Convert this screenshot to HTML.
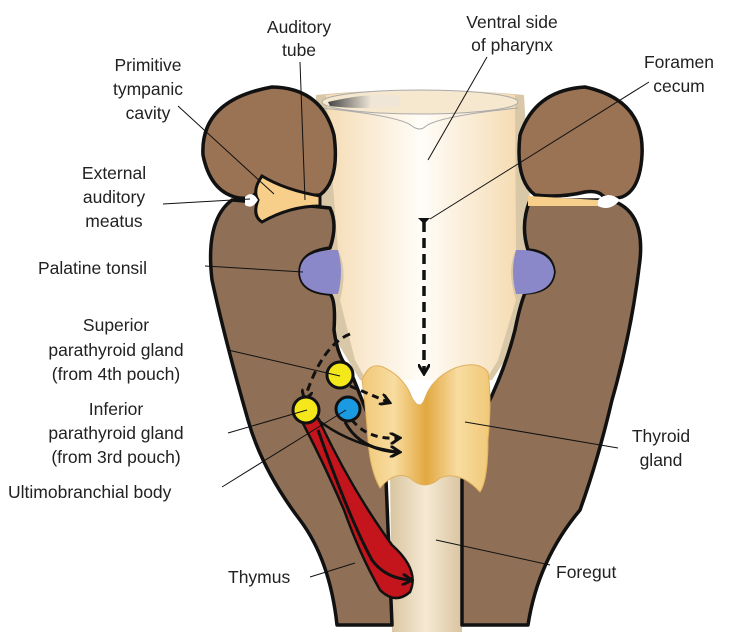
<!DOCTYPE html>
<html><head><meta charset="utf-8"><style>
html,body{margin:0;padding:0;background:#fff;}
svg{display:block;}
text{font-family:"Liberation Sans",sans-serif;font-size:17.5px;fill:#222;}
</style></head><body>
<svg width="738" height="638" viewBox="0 0 738 638" xmlns="http://www.w3.org/2000/svg">
<defs>
<linearGradient id="ph" x1="0" x2="1" y1="0" y2="0">
<stop offset="0" stop-color="#f5dcb4"/><stop offset="0.5" stop-color="#fffdf8"/><stop offset="1" stop-color="#f5dcb4"/>
</linearGradient>
<linearGradient id="gut" x1="0" x2="1">
<stop offset="0" stop-color="#d8c4a0"/><stop offset="0.5" stop-color="#f6ead4"/><stop offset="1" stop-color="#d8c4a0"/>
</linearGradient>
<linearGradient id="thy" x1="0" x2="1">
<stop offset="0" stop-color="#f0c878"/><stop offset="0.25" stop-color="#f8dca0"/><stop offset="0.5" stop-color="#e2a840"/><stop offset="0.75" stop-color="#f8dca0"/><stop offset="1" stop-color="#f0c878"/>
</linearGradient>
<linearGradient id="hole" x1="0" x2="1">
<stop offset="0" stop-color="#444"/><stop offset="0.6" stop-color="#f0e6d8"/>
</linearGradient>
<marker id="ahb" markerWidth="12" markerHeight="12" refX="8" refY="6" orient="auto" markerUnits="userSpaceOnUse">
<path d="M0,0 L10,6 L0,12" fill="none" stroke="#111" stroke-width="3"/>
</marker>
</defs>

<path d="M390,470 L392,632 L462,632 L462,470 Z" fill="url(#gut)"/>
<path d="M316,95 Q420,85 524,95 L530,200 L530,300 L520,340 L505,360 L492,380 L360,380 L348,360 L330,330 L312,300 L312,200 Z" fill="#d9c8a8"/>
<path d="M326,95 Q420,85 515,95 L516,250 Q506,270 516,300 L498,360 L486,380 L366,380 L355,360 L340,300 Q348,270 338,250 Z" fill="url(#ph)"/>
<ellipse cx="420" cy="102" rx="98" ry="12" fill="#f6e7cf" stroke="#aaa" stroke-width="1"/>
<path d="M328,102 Q370,92 400,96 L400,106 Q360,110 330,106 Z" fill="url(#hole)"/>
<path d="M322,108 Q400,116 412,126 Q420,132 426,126 Q440,116 518,108" fill="none" stroke="#aaa" stroke-width="1"/>

<path d="M232,200 L300,205 L330,208 Q338,225 330,248 Q300,252 300,272 Q300,292 330,294 Q336,300 334,330 Q338,360 350,370 Q362,400 378,440 Q386,465 386,480 L392,625 L337,625 Q330,560 300,520 Q262,470 248,420 Q225,340 212,280 Q205,220 232,200 Z" fill="#8f7056" stroke="#111" stroke-width="3.5" stroke-linejoin="round"/>
<path d="M530,200 L610,200 Q645,210 640,260 Q632,330 612,400 Q598,460 580,510 Q538,560 528,625 L462,625 L462,480 Q470,440 485,410 Q505,370 515,330 Q520,305 525,293 Q552,292 554,272 Q552,252 528,250 Q520,225 530,200 Z" fill="#8f7056" stroke="#111" stroke-width="3.5" stroke-linejoin="round"/>
<path d="M331,250 Q300,252 300,272 Q300,292 331,294 L338,294 Q344,272 338,250 Z" fill="#8a88c8"/>
<path d="M524,250 Q552,252 554,272 Q552,292 524,294 L516,294 Q510,272 516,250 Z" fill="#8a88c8"/>
<path d="M272,87 Q322,88 334,135 Q340,180 320,195 Q300,197 270,192 Q258,190 253,196 Q245,200 235,197 Q210,190 203,155 Q200,100 272,87 Z" fill="#9a7254" stroke="#111" stroke-width="3.5" stroke-linejoin="round"/>
<path d="M262,176 Q285,190 320,196 L320,206 Q290,206 262,222 Q252,216 258,200 Q252,190 262,176 Z" fill="#f7cf8a" stroke="#111" stroke-width="3"/>
<path d="M245,197 Q252,190 258,200 Q252,210 245,205 Z" fill="#fff"/>
<path d="M585,87 Q535,90 520,135 Q515,180 535,195 Q560,198 585,192 Q598,190 603,196 Q612,200 622,197 Q640,190 642,155 Q645,100 585,87 Z" fill="#9a7254" stroke="#111" stroke-width="3.5" stroke-linejoin="round"/>
<path d="M528,196 L598,200 Q600,208 598,206 L528,206 Z" fill="#f7cf8a"/>
<path d="M598,200 Q608,190 620,200 Q610,212 598,206 Z" fill="#fff"/>

<path d="M362,380 Q370,360 385,368 Q405,378 412,398 Q420,412 425,398 Q432,378 455,368 Q478,360 488,372 Q492,400 488,440 Q488,480 480,492 Q460,470 440,478 Q425,492 410,478 Q395,470 380,488 Q370,470 368,440 Q365,400 362,380 Z" fill="url(#thy)" stroke="#e0b060" stroke-width="1"/>

<path d="M300,418 Q318,412 320,422 Q352,490 392,545 Q420,570 410,592 Q395,605 380,590 Q360,555 344,510 Q320,455 300,418 Z" fill="#c4141c" stroke="#111" stroke-width="2.5"/>
<path d="M318,430 Q350,520 372,560 Q385,578 410,580" fill="none" stroke="#111" stroke-width="3" marker-end="url(#ahb)"/>

<line x1="424" y1="222" x2="424" y2="372" stroke="#111" stroke-width="3.5" stroke-dasharray="10,6" marker-end="url(#ahb)"/>
<path d="M418,218 L430,218 L424,224 Z" fill="#111"/>
<path d="M350,334 Q322,345 305,398" fill="none" stroke="#111" stroke-width="3" stroke-dasharray="8,5" marker-end="url(#ahb)"/>
<path d="M350,386 L388,402" fill="none" stroke="#111" stroke-width="3" stroke-dasharray="7,5" marker-end="url(#ahb)"/>
<path d="M352,420 Q368,440 398,438" fill="none" stroke="#111" stroke-width="3" stroke-dasharray="7,5" marker-end="url(#ahb)"/>
<path d="M345,422 Q360,450 398,452" fill="none" stroke="#111" stroke-width="3" marker-end="url(#ahb)"/>
<path d="M318,420 Q350,445 398,452" fill="none" stroke="#111" stroke-width="2.5"/>

<circle cx="340" cy="375" r="13" fill="#f4e81a" stroke="#111" stroke-width="3"/>
<circle cx="306" cy="410" r="13" fill="#f4e81a" stroke="#111" stroke-width="3"/>
<circle cx="348" cy="409" r="12" fill="#1a9ae0" stroke="#111" stroke-width="3"/>

<g stroke="#111" stroke-width="1" fill="none">
<line x1="300" y1="62" x2="305" y2="200"/>
<line x1="487" y1="57" x2="428" y2="160"/>
<line x1="649" y1="82" x2="430" y2="219"/>
<line x1="178" y1="106" x2="274" y2="194"/>
<line x1="163" y1="204" x2="250" y2="199"/>
<line x1="205" y1="266" x2="303" y2="272"/>
<line x1="228" y1="350" x2="340" y2="376"/>
<line x1="228" y1="433" x2="307" y2="410"/>
<line x1="222" y1="487" x2="346" y2="410"/>
<line x1="310" y1="577" x2="355" y2="563"/>
<line x1="550" y1="565" x2="436" y2="540"/>
<line x1="618" y1="448" x2="465" y2="422"/>
</g>

<g text-anchor="middle">
<text x="299" y="33">Auditory</text><text x="299" y="56">tube</text>
<text x="512" y="28">Ventral side</text><text x="512" y="51">of pharynx</text>
<text x="679" y="68">Foramen</text><text x="679" y="92">cecum</text>
<text x="148" y="71">Primitive</text><text x="148" y="95">tympanic</text><text x="148" y="119">cavity</text>
<text x="114" y="179">External</text><text x="114" y="203">auditory</text><text x="114" y="227">meatus</text>
<text x="116" y="331">Superior</text><text x="116" y="356">parathyroid gland</text><text x="116" y="380">(from 4th pouch)</text>
<text x="116" y="415">Inferior</text><text x="116" y="439">parathyroid gland</text><text x="116" y="463">(from 3rd pouch)</text>
<text x="661" y="442">Thyroid</text><text x="661" y="466">gland</text>
</g>
<text x="38" y="274">Palatine tonsil</text>
<text x="8" y="498">Ultimobranchial body</text>
<text x="228" y="583">Thymus</text>
<text x="556" y="578">Foregut</text>
</svg>
</body></html>
